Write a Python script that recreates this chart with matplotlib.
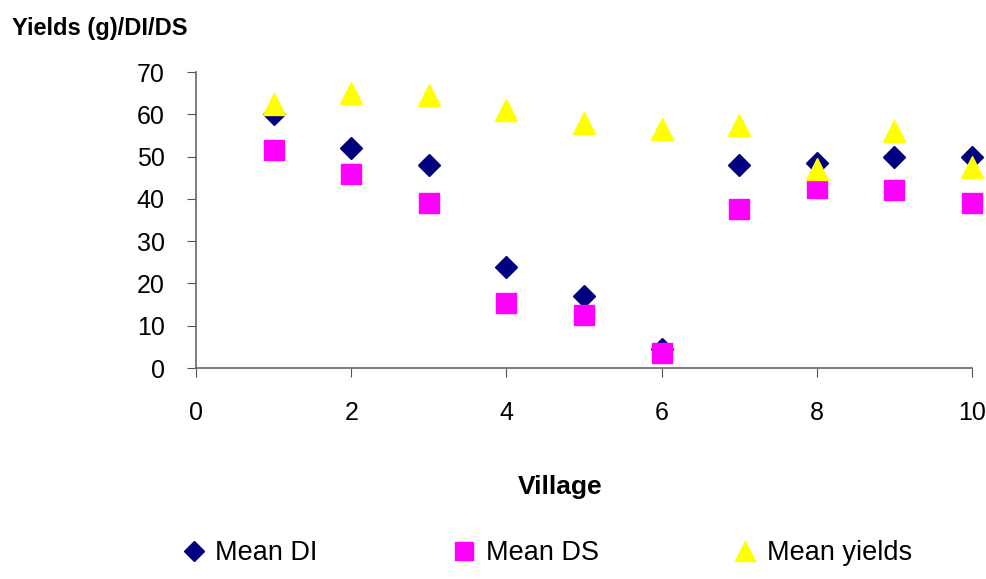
import matplotlib
matplotlib.use("Agg")
import matplotlib.pyplot as plt

villages = [1, 2, 3, 4, 5, 6, 7, 8, 9, 10]
mean_di = [60, 52, 48, 24, 17, 4.5, 48, 48.5, 50, 50]
mean_ds = [51.5, 46, 39, 15.3, 12.5, 3.5, 37.5, 42.5, 42, 39]
mean_yields = [62.5, 65, 64.5, 61, 58, 56.5, 57.5, 47, 56, 47.5]

plt.rcParams['font.family'] = ['Liberation Sans', 'DejaVu Sans']

fig = plt.figure(figsize=(9.86, 5.79), dpi=100)
ax = fig.add_axes([0.1988, 0.3644, 0.787, 0.5112])

ax.plot(villages, mean_di, 'D', color='#000080', ms=11, ls='none', label='Mean DI', clip_on=False, zorder=3)
ax.plot(villages, mean_ds, 's', color='#FF00FF', ms=14, ls='none', label='Mean DS', clip_on=False, zorder=3)
ax.plot(villages, mean_yields, '^', color='#FFFF00', ms=16, ls='none', label='Mean yields', clip_on=False, zorder=4)

ax.set_xlim(0, 10)
ax.set_ylim(0, 70)
ax.set_xticks(range(0, 11, 2))
ax.set_yticks(range(0, 71, 10))
ax.tick_params(labelsize=18, length=6.5, color='#555555')
ax.tick_params(axis='x', pad=17)
ax.tick_params(axis='y', pad=16)
for s in ['top', 'right']:
    ax.spines[s].set_visible(False)
for s in ['left', 'bottom']:
    ax.spines[s].set_color('#666666')
    ax.spines[s].set_linewidth(1.2)

fig.text(560 / 986, 1 - 487 / 579, 'Village', fontsize=19, fontweight='bold', ha='center', va='center')
fig.text(0.012, 1 - 28 / 579, 'Yields (g)/DI/DS', fontsize=17, fontweight='bold', va='center')

leg = fig.legend(loc='center left', bbox_to_anchor=(0.158, 1 - 553 / 579), ncol=3, frameon=False,
                 columnspacing=4.9, handletextpad=0.3, handlelength=1.0, markerscale=0.9,
                 prop={'size': 19.5})

fig.savefig('out.png', dpi=100)
